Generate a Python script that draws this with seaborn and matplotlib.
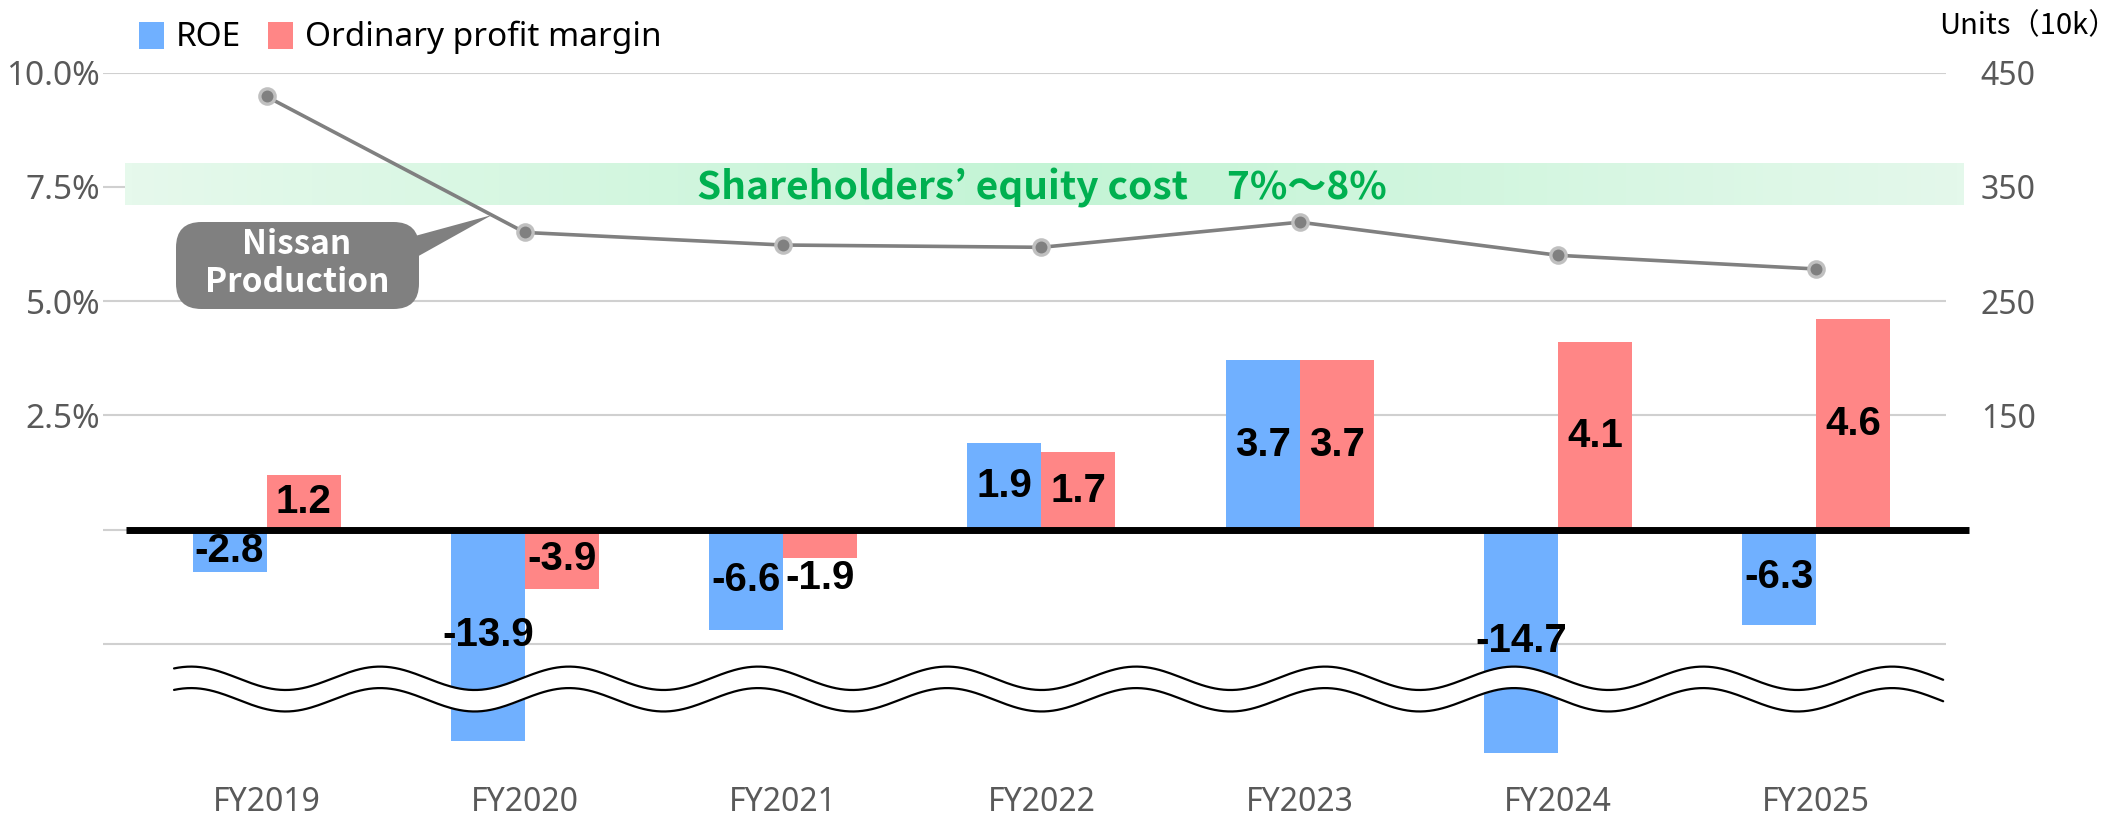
import numpy as np
import pandas as pd
import seaborn as sns
import matplotlib.pyplot as plt
from matplotlib.colors import LinearSegmentedColormap
from matplotlib.patches import FancyBboxPatch, Polygon, Rectangle

# data
years = ['FY2019', 'FY2020', 'FY2021', 'FY2022', 'FY2023', 'FY2024', 'FY2025']
roe = [-2.8, -13.9, -6.6, 1.9, 3.7, -14.7, -6.3]
op_margin = [1.2, -3.9, -1.9, 1.7, 3.7, 4.1, 4.6]
production = [429, 310, 299, 297, 319, 290, 278]  # units (10k)

left_ticks = [-2.5, 0, 2.5, 5.0, 7.5, 10.0]
left_labels = ['', '', '2.5%', '5.0%', '7.5%', '10.0%']
right_ticks = [150, 250, 350, 450]
equity_cost_band = (7.1, 8.0)

# negative bars are drawn compressed (broken axis in the original)
NEG_SCALE = 1 / 3

W, H = 2122, 824
BLUE = '#70b0ff'
RED = '#ff8686'
GRAY_TXT = '#595959'
LINE_GRAY = '#808080'
GREEN = '#00b050'
CJK = ['Noto Sans CJK JP', 'DejaVu Sans']


def px(x, y):
    # pixel (from top-left) -> figure fraction
    return x / W, 1 - y / H


sns.set_theme(style='white')
plt.rcParams['font.family'] = ['Noto Sans', 'Noto Sans CJK JP', 'DejaVu Sans']

df = pd.DataFrame({'year': years, 'ROE': roe, 'Ordinary profit margin': op_margin})
df = df.melt(id_vars='year', var_name='series', value_name='value')
df['drawn'] = df['value'].where(df['value'] > 0, df['value'] * NEG_SCALE)

fig = plt.figure(figsize=(W / 100, H / 100), dpi=100)
ax = fig.add_axes([103 / W, 1 - 758 / H, (1946 - 103) / W, (758 - 72.5) / H])

sns.barplot(data=df, x='year', y='drawn', hue='series', palette=[BLUE, RED],
            width=0.573, gap=0, saturation=1, linewidth=0, legend=False, ax=ax, zorder=2)

xlim = (-0.633, 6.502)

# shareholders' equity cost band with horizontal gradient
band_cmap = LinearSegmentedColormap.from_list('band', ['#e6f9ec', '#c3f4d5', '#e4f8eb'])
ax.imshow(np.linspace(0, 1, 256).reshape(1, -1), cmap=band_cmap, aspect='auto',
          extent=[-0.548, 6.568, equity_cost_band[0], equity_cost_band[1]],
          zorder=0.8, clip_on=False)
ax.text(3.0, 7.47, 'Shareholders’ equity cost\u30007%～8%',
        ha='center', va='center', fontsize=28, fontweight='bold', color=GREEN,
        family=CJK, zorder=1)

ax.set_xlim(*xlim)
ax.set_ylim(-5, 10)
ax.set_yticks(left_ticks)
ax.set_yticklabels(left_labels)
ax.yaxis.grid(True, color='#d0d0d0', lw=1.5)
ax.set_axisbelow(True)
ax.set_xlabel('')
ax.set_ylabel('')
ax.tick_params(axis='y', length=0, pad=2, labelsize=24, labelcolor=GRAY_TXT)
ax.tick_params(axis='x', length=0, pad=20, labelsize=23, labelcolor=GRAY_TXT)
for s in ax.spines.values():
    s.set_visible(False)

# data labels
for cont, vals in zip(ax.containers, [roe, op_margin]):
    for bar, v in zip(cont, vals):
        xc = bar.get_x() + bar.get_width() / 2
        h = bar.get_height()
        if abs(h) >= 0.75:
            yc = h / 2
        else:
            yc = h + (0.42 if h > 0 else -0.42)
        ax.text(xc, yc, f'{v:.1f}', ha='center', va='center', fontsize=29,
                fontweight='bold', family='Liberation Sans', color='black', zorder=5)

# zero line
ax.plot([(126 - 103) / 1843, (1969 - 103) / 1843], [0, 0], transform=ax.get_yaxis_transform(),
        color='black', lw=5, solid_capstyle='butt', clip_on=False, zorder=4)

# wavy break marks
wx = np.linspace(-0.358, 6.491, 800)
wave_top = -3.256 + 0.256 * np.cos(2 * np.pi * (wx + 0.292) / 0.7317)
wave_bot = wave_top - 0.47
ax.fill_between(wx, wave_bot, wave_top, color='white', lw=0, zorder=3)
ax.plot(wx, wave_top, color='black', lw=1.6, zorder=3.5)
ax.plot(wx, wave_bot, color='black', lw=1.6, zorder=3.5)

# production line on the right axis
ax2 = ax.twinx()
sns.lineplot(x=years, y=production, ax=ax2, color=LINE_GRAY, lw=2.6, marker='o',
             markersize=11, markerfacecolor=LINE_GRAY, markeredgecolor='#c0c0c0',
             markeredgewidth=2.4, zorder=3)
ax2.set_ylim(-150, 450)
ax2.set_yticks(right_ticks)
ax2.set_yticklabels([str(t) for t in right_ticks])
ax2.set_ylabel('')
ax2.grid(False)
ax2.tick_params(axis='y', length=0, pad=25, labelsize=23, labelcolor=GRAY_TXT)
for s in ax2.spines.values():
    s.set_visible(False)

# legend
for x0, color, label in [(139, BLUE, 'ROE'), (268, RED, 'Ordinary profit margin')]:
    fig.patches.append(Rectangle(px(x0, 49), 25 / W, 27 / H, transform=fig.transFigure,
                                 color=color, lw=0))
    fig.text(*px(x0 + 37, 37), label, ha='left', va='center', fontsize=24, color='black')

fig.text(*px(2118, 26), 'Units（10k）', ha='right', va='center', fontsize=21,
         color='black', family=CJK)

# callout
fig.patches.append(Polygon([px(415, 236), px(492, 215), px(415, 258)], closed=True,
                           transform=fig.transFigure, color=LINE_GRAY, lw=0))
fig.patches.append(FancyBboxPatch(px(176, 309), (419 - 176) / W, (309 - 222) / H,
                                  boxstyle='round,pad=0,rounding_size=0.012',
                                  transform=fig.transFigure, color=LINE_GRAY, lw=0,
                                  mutation_aspect=W / H))
fig.text(*px(297, 244), 'Nissan', ha='center', va='center', fontsize=24,
         fontweight='bold', color='white', family=CJK)
fig.text(*px(297, 283), 'Production', ha='center', va='center', fontsize=24,
         fontweight='bold', color='white', family=CJK)

fig.savefig('out.png', dpi=100)
